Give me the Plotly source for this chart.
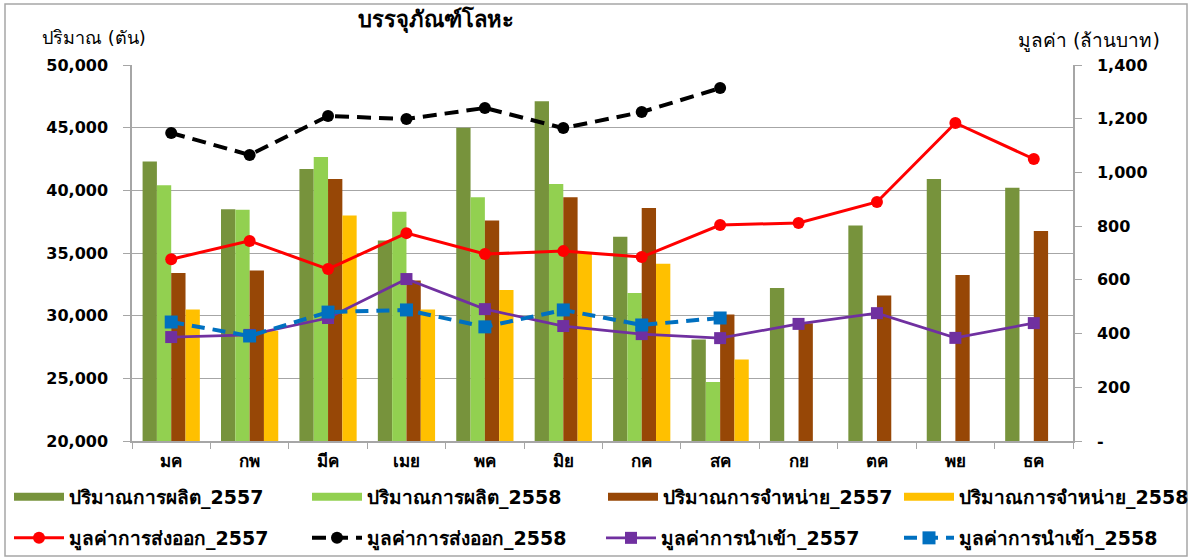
import plotly.graph_objects as go

months = ["มค", "กพ", "มีค", "เมย", "พค", "มิย", "กค", "สค", "กย", "ตค", "พย", "ธค"]

prod_2557 = [42300, 38500, 41700, 36000, 45000, 47100, 36300, 28100, 32200, 37200, 40900, 40200]
prod_2558 = [40400, 38450, 42650, 38300, 39450, 40500, 31800, 24700, None, None, None, None]
sales_2557 = [33400, 33600, 40900, 32800, 37600, 39450, 38600, 30100, 29400, 31600, 33250, 36750]
sales_2558 = [30500, 28800, 38000, 30500, 32050, 35000, 34150, 26500, None, None, None, None]

export_2557 = [677, 745, 640, 774, 696, 707, 685, 804, 812, 890, 1184, 1050]
export_2558 = [1147, 1065, 1210, 1199, 1240, 1165, 1225, 1314, None, None, None, None]
import_2557 = [387, 395, 458, 603, 491, 428, 398, 383, 436, 476, 384, 439]
import_2558 = [443, 391, 480, 488, 425, 488, 432, 458, None, None, None, None]

left_ticks = [20000, 25000, 30000, 35000, 40000, 45000, 50000]
right_ticks = [0, 200, 400, 600, 800, 1000, 1200, 1400]
right_ticktext = ["-", "200", "400", "600", "800", "1,000", "1,200", "1,400"]

bar_names = ["ปริมาณการผลิต_2557", "ปริมาณการผลิต_2558", "ปริมาณการจำหน่าย_2557", "ปริมาณการจำหน่าย_2558"]
bar_data = [prod_2557, prod_2558, sales_2557, sales_2558]
bar_colors = ["#77933C", "#92D050", "#974706", "#FFC000"]

FONT = "DejaVu Sans, Noto Sans, sans-serif"

W, H = 1192, 557
L, R, T, B = 132, 1073, 65, 441
def px_x(p):
    return (p - L) / (R - L)
def px_y(p):
    return (B - p) / (B - T)
def cx(p):
    return p / W
def cy(p):
    return 1 - p / H

fig = go.Figure()

legend_pos = [
    (9, 497), (307, 497), (603, 497), (899, 497),
    (9, 538), (307, 538), (601, 538), (899, 538),
]
legend_ids = ["legend"] + ["legend%d" % i for i in range(2, 9)]

for i, (name, vals, col) in enumerate(zip(bar_names, bar_data, bar_colors)):
    fig.add_trace(go.Bar(x=months, y=vals, name=name, marker_color=col,
                         marker_line_width=0, showlegend=False, yaxis="y"))
    fig.add_trace(go.Scatter(x=[None], y=[None], mode="lines", name=name,
                             line=dict(color=col, width=8), legend=legend_ids[i],
                             hoverinfo="skip"))

line_specs = [
    ("มูลค่าการส่งออก_2557", export_2557, "#FF0000", "solid", "circle", 12, 3),
    ("มูลค่าการส่งออก_2558", export_2558, "#000000", "14px,8px", "circle", 12, 4),
    ("มูลค่าการนำเข้า_2557", import_2557, "#7030A0", "solid", "square", 12, 2.75),
    ("มูลค่าการนำเข้า_2558", import_2558, "#0070C0", "13px,8px", "square", 13, 4),
]
for j, (name, vals, col, dash, sym, ms, lw) in enumerate(line_specs):
    fig.add_trace(go.Scatter(x=months, y=vals, name=name, mode="lines+markers",
                             line=dict(color=col, width=lw, dash=dash),
                             marker=dict(symbol=sym, size=ms, color=col),
                             yaxis="y2", legend=legend_ids[4 + j],
                             connectgaps=False))

layout_legends = {}
for lid, (lx, ly) in zip(legend_ids, legend_pos):
    layout_legends[lid] = dict(x=cx(lx), y=cy(ly), xref="container", yref="container",
                               xanchor="left", yanchor="middle",
                               orientation="h", bgcolor="rgba(0,0,0,0)", itemwidth=50,
                               font=dict(family=FONT, size=19, color="#000000", weight="bold"),
                               itemclick=False, itemdoubleclick=False)

fig.update_layout(
    width=W, height=H,
    margin=dict(l=L, r=W - R, t=T, b=H - B, autoexpand=False),
    paper_bgcolor="white", plot_bgcolor="white",
    barmode="group", bargap=0.27, bargroupgap=0,
    font=dict(family=FONT, color="#000000"),
    xaxis=dict(type="category", range=[-0.5, 11.5], showgrid=False, showline=True,
               linecolor="#A6A6A6", linewidth=1.5, ticks="outside", tickson="boundaries",
               ticklen=6, tickcolor="#A6A6A6",
               tickfont=dict(family=FONT, size=17, weight="bold"), ticklabelstandoff=4),
    yaxis=dict(range=[20000, 50000], tickvals=left_ticks, tickformat=",",
               showgrid=True, gridcolor="#A6A6A6", gridwidth=1.2,
               showline=True, linecolor="#A6A6A6", linewidth=1.5,
               ticks="outside", ticklen=7, tickcolor="#A6A6A6",
               tickfont=dict(family=FONT, size=16, weight="bold"),
               ticklabelstandoff=12, zeroline=False),
    yaxis2=dict(range=[0, 1400], tickvals=right_ticks, ticktext=right_ticktext,
                overlaying="y", side="right", showgrid=False,
                showline=True, linecolor="#A6A6A6", linewidth=1.5,
                ticks="outside", ticklen=7, tickcolor="#A6A6A6",
                tickfont=dict(family=FONT, size=16, weight="bold"),
                ticklabelstandoff=12, zeroline=False),
    **layout_legends,
)

fig.add_annotation(text="บรรจุภัณฑ์โลหะ", x=px_x(436), y=px_y(20), xref="paper", yref="paper",
                   showarrow=False, xanchor="center", yanchor="middle",
                   font=dict(family=FONT, size=22, weight="bold"))
fig.add_annotation(text="ปริมาณ (ตัน)", x=px_x(40), y=px_y(38), xref="paper", yref="paper",
                   showarrow=False, xanchor="left", yanchor="middle",
                   font=dict(family=FONT, size=18))
fig.add_annotation(text="มูลค่า (ล้านบาท)", x=px_x(1162), y=px_y(40), xref="paper", yref="paper",
                   showarrow=False, xanchor="right", yanchor="middle",
                   font=dict(family=FONT, size=19))

fig.add_shape(type="rect", xref="paper", yref="paper",
              x0=px_x(5), x1=px_x(1187), y0=px_y(556), y1=px_y(4),
              line=dict(color="#A6A6A6", width=1.5), fillcolor="rgba(0,0,0,0)", layer="below")

fig.write_html("out.html", config={"displayModeBar": False},
               post_script="document.body.style.margin='0px';")
